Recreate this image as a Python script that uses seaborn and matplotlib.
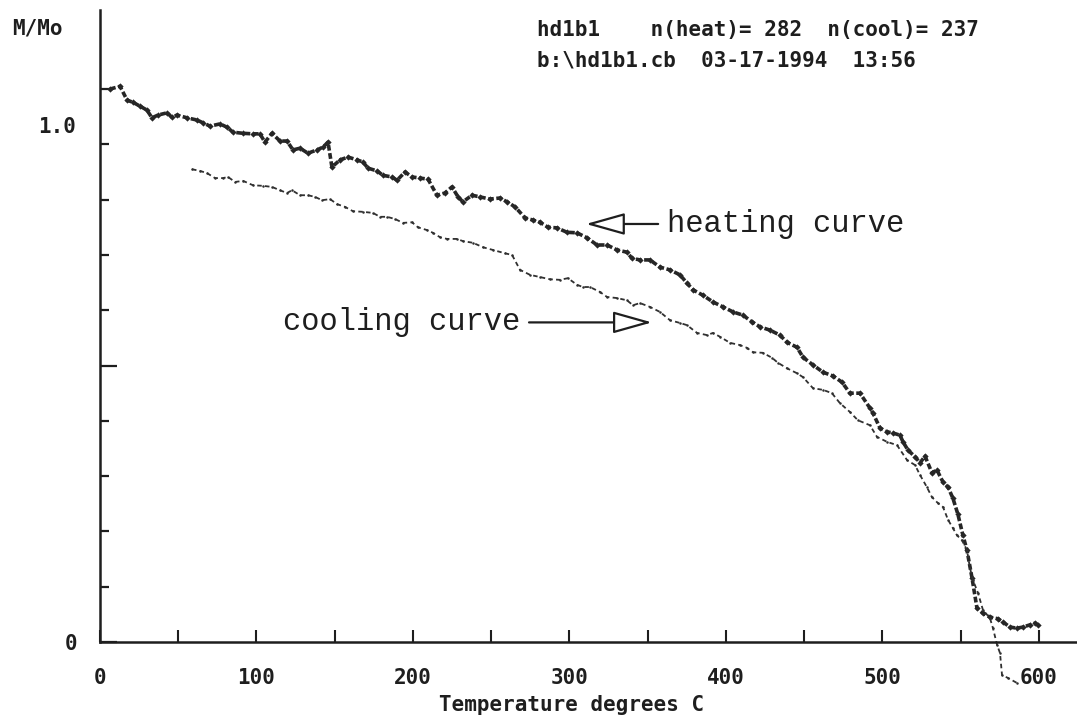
import numpy as np
import pandas as pd
import matplotlib
matplotlib.use("Agg")
import matplotlib.pyplot as plt
import seaborn as sns

# ---------------- data ----------------
heat_T = [6.4, 12.8, 17.3, 21.1, 25.6, 30.0, 33.2, 37.1, 42.8, 46.0, 49.2, 55.6, 62.0, 65.8,
          70.3, 76.7, 81.2, 85.0, 91.4, 97.8, 102.2, 105.4, 109.9, 115.0, 119.5, 123.3, 127.8,
          132.9, 138.7, 142.5, 145.7, 148.2, 153.4, 158.5, 164.2, 168.1, 171.2, 177.0, 180.8,
          186.6, 189.8, 194.9, 199.4, 204.5, 209.6, 215.3, 220.4, 224.9, 228.8, 231.9, 237.7,
          242.8, 249.2, 255.6, 260.1, 265.2, 271.6, 276.7, 281.2, 286.3, 292.0, 298.4, 304.8,
          311.2, 317.6, 324.0, 330.4, 336.7, 339.9, 345.0, 351.4, 357.8, 364.2, 370.6, 375.1,
          378.9, 385.3, 391.7, 398.1, 404.5, 410.9, 416.6, 421.7, 428.1, 434.5, 439.0, 445.4,
          449.2, 455.6, 462.0, 468.4, 474.1, 479.2, 485.6, 492.0, 493.9, 498.4, 502.9, 506.7,
          511.2, 513.1, 516.3, 520.8, 524.0, 527.2, 531.6, 534.8, 538.7, 541.9, 545.0, 548.2,
          551.4, 554.0, 557.2, 560.4, 564.2, 568.7, 573.8, 577.0, 581.5, 585.9, 589.8, 594.2,
          597.4, 599.4]
heat_M = [1.000, 1.005, 0.980, 0.976, 0.969, 0.962, 0.948, 0.953, 0.957, 0.949, 0.953, 0.948,
          0.944, 0.939, 0.933, 0.937, 0.931, 0.922, 0.920, 0.919, 0.919, 0.904, 0.920, 0.906,
          0.906, 0.890, 0.893, 0.884, 0.890, 0.895, 0.904, 0.859, 0.872, 0.877, 0.872, 0.868,
          0.857, 0.852, 0.844, 0.841, 0.835, 0.850, 0.841, 0.839, 0.837, 0.808, 0.812, 0.823,
          0.805, 0.796, 0.808, 0.805, 0.801, 0.803, 0.796, 0.787, 0.767, 0.763, 0.759, 0.750,
          0.749, 0.741, 0.740, 0.731, 0.718, 0.718, 0.709, 0.705, 0.694, 0.691, 0.691, 0.678,
          0.673, 0.664, 0.649, 0.637, 0.627, 0.615, 0.606, 0.597, 0.591, 0.579, 0.570, 0.564,
          0.555, 0.542, 0.533, 0.515, 0.501, 0.488, 0.481, 0.470, 0.450, 0.450, 0.423, 0.414,
          0.387, 0.380, 0.378, 0.374, 0.362, 0.347, 0.335, 0.324, 0.336, 0.306, 0.311, 0.289,
          0.280, 0.260, 0.231, 0.193, 0.166, 0.116, 0.061, 0.052, 0.045, 0.042, 0.036, 0.027,
          0.025, 0.027, 0.031, 0.034, 0.031]

cool_T = [58.8, 63.9, 68.4, 73.5, 78.6, 81.8, 86.3, 91.4, 97.8, 104.2, 109.9, 115.0, 119.5,
          122.7, 127.8, 132.9, 137.4, 141.9, 147.0, 151.4, 156.5, 161.7, 168.1, 174.4, 178.9,
          183.4, 188.5, 193.6, 199.4, 203.2, 208.9, 212.8, 217.3, 221.7, 228.1, 231.9, 238.3,
          244.7, 251.1, 258.8, 263.3, 268.4, 274.8, 281.2, 287.5, 293.9, 299.0, 304.8, 308.6,
          313.1, 319.5, 324.0, 330.4, 336.7, 340.6, 345.0, 351.4, 357.8, 364.2, 370.6, 375.1,
          381.5, 387.9, 391.7, 396.2, 402.6, 408.9, 413.4, 417.3, 423.6, 429.4, 433.2, 439.0,
          445.4, 449.2, 455.6, 462.0, 467.7, 472.8, 479.2, 484.3, 492.0, 496.5, 502.9, 509.3,
          515.7, 520.8, 524.0, 528.4, 531.6, 535.5, 538.7, 541.9, 545.0, 547.6, 550.8, 554.0,
          555.9, 557.8, 561.0, 564.2, 568.7, 570.6, 573.2, 575.1, 576.4, 580.2, 585.9]
cool_M = [0.855, 0.852, 0.848, 0.839, 0.839, 0.841, 0.832, 0.834, 0.826, 0.825, 0.823, 0.817,
          0.812, 0.817, 0.808, 0.808, 0.805, 0.799, 0.801, 0.792, 0.787, 0.779, 0.778, 0.776,
          0.769, 0.769, 0.765, 0.758, 0.759, 0.750, 0.745, 0.740, 0.732, 0.729, 0.729, 0.725,
          0.722, 0.714, 0.709, 0.703, 0.700, 0.673, 0.664, 0.660, 0.656, 0.655, 0.658, 0.646,
          0.642, 0.642, 0.633, 0.624, 0.622, 0.618, 0.609, 0.613, 0.606, 0.597, 0.582, 0.577,
          0.573, 0.559, 0.555, 0.559, 0.552, 0.541, 0.537, 0.532, 0.524, 0.523, 0.514, 0.505,
          0.495, 0.486, 0.479, 0.459, 0.456, 0.450, 0.432, 0.416, 0.401, 0.392, 0.371, 0.362,
          0.356, 0.329, 0.320, 0.302, 0.280, 0.262, 0.251, 0.244, 0.221, 0.206, 0.193, 0.184,
          0.166, 0.134, 0.112, 0.089, 0.058, 0.043, 0.025, -0.005, -0.020, -0.060, -0.065,
          -0.074]

x_ticks = [0, 100, 200, 300, 400, 500, 600]
x_minor = [50, 150, 250, 350, 450, 550]
y_minor = [0.1, 0.2, 0.3, 0.4, 0.6, 0.7, 0.8, 0.9, 1.0]
header1 = "hd1b1    n(heat)= 282  n(cool)= 237"
header2 = "b:\\hd1b1.cb  03-17-1994  13:56"

heat = pd.DataFrame({"T": heat_T, "M": heat_M})
cool = pd.DataFrame({"T": cool_T, "M": cool_M})

# ---------------- figure ----------------
sns.set_style("white")
plt.rcParams["font.family"] = ["DejaVu Sans Mono", "DejaVu Sans"]
ink = "#1e1e1e"

fig = plt.figure(figsize=(10.77, 7.19), dpi=100)
ax = fig.add_axes([100 / 1077, 77 / 719, 977 / 1077, 632 / 719])

sns.lineplot(data=heat, x="T", y="M", ax=ax, color="#262626", linewidth=2.6,
             linestyle=(0, (1.6, 0.7)), marker="D", markersize=3.2, markeredgewidth=0,
             estimator=None, sort=False)
sns.lineplot(data=cool, x="T", y="M", ax=ax, color="#303030", linewidth=1.3,
             linestyle=(0, (2.5, 1.8)), marker="o", markersize=1.8, markeredgewidth=0,
             estimator=None, sort=False)
for ln in ax.lines:
    ln.set_clip_on(False)

ax.set_xlim(0, 624.3)
ax.set_ylim(0, 1.143)
sns.despine(ax=ax, top=True, right=True)
for s in ("left", "bottom"):
    ax.spines[s].set_color(ink)
    ax.spines[s].set_linewidth(1.8)

ax.set_xticks(x_ticks)
ax.set_xticks(x_minor, minor=True)
ax.set_xticklabels([str(v) for v in x_ticks])
ax.set_yticks([0, 0.5])
ax.set_yticklabels(["0", ""])
ax.set_yticks(y_minor, minor=True)
ax.tick_params(axis="x", which="both", bottom=True, direction="in", length=9, width=1.5,
               color=ink, pad=19, labelsize=15, labelcolor=ink)
ax.tick_params(axis="y", which="major", left=True, direction="in", length=12, width=1.6,
               color=ink, pad=16, labelsize=15, labelcolor=ink)
ax.tick_params(axis="y", which="minor", left=True, direction="in", length=6.5, width=1.6,
               color=ink)
for lab in ax.get_xticklabels() + ax.get_yticklabels():
    lab.set_fontweight("bold")

ax.set_xlabel("Temperature degrees C", fontsize=15, fontweight="bold", color=ink)
ax.set_ylabel("")
ax.xaxis.set_label_coords((572 - 100) / 977, -(695 - 642) / 632)

# misplaced "1.0" label like on the original printout
ax.text(-24 / 977, (642 - 127) / 553, "1.0", transform=ax.get_yaxis_transform(),
        ha="right", va="center", fontsize=15, fontweight="bold", color=ink)

fig.text(12 / 1077, 1 - 28 / 719, "M/Mo", ha="left", va="center", fontsize=15,
         fontweight="bold", color=ink)
fig.text(537 / 1077, 1 - 30 / 719, header1, ha="left", va="center", fontsize=15,
         fontweight="bold", color=ink)
fig.text(537 / 1077, 1 - 60 / 719, header2, ha="left", va="center", fontsize=15,
         fontweight="bold", color=ink)

arrow_kw = dict(arrowstyle="-|>,head_length=1.35,head_width=0.38", fc="white", ec=ink,
                lw=1.6, mutation_scale=18, shrinkB=0)
ax.annotate("heating curve", xy=(310.5, 0.756), xytext=(362.3, 0.756),
            ha="left", va="center", fontsize=22, family="Liberation Mono", color=ink,
            arrowprops=dict(**arrow_kw, relpos=(0, 0.5), shrinkA=4))
ax.annotate("cooling curve", xy=(352.7, 0.578), xytext=(116.9, 0.578),
            ha="left", va="center", fontsize=22, family="Liberation Mono", color=ink,
            arrowprops=dict(**arrow_kw, relpos=(1, 0.5), shrinkA=4))

fig.savefig("out.png", dpi=100, facecolor="white")
